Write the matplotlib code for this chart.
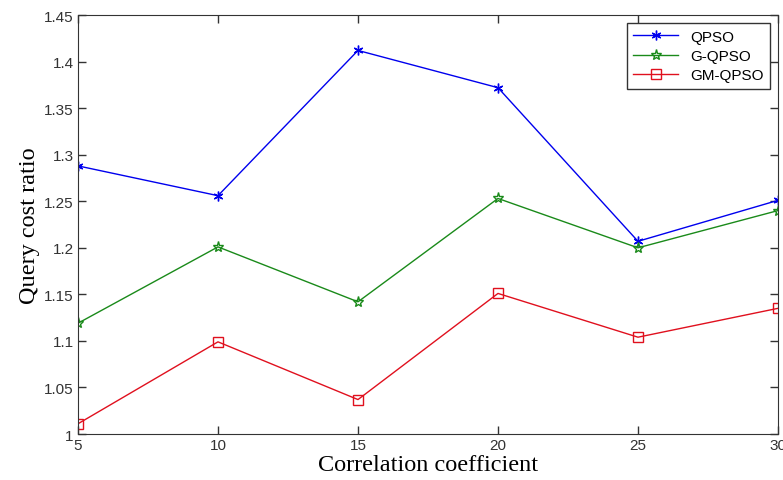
import matplotlib
matplotlib.use("Agg")
import matplotlib.pyplot as plt

# 数据
corr = [5, 10, 15, 20, 25, 30]
qpso = [1.288, 1.256, 1.412, 1.372, 1.207, 1.251]
g_qpso = [1.119, 1.201, 1.142, 1.253, 1.200, 1.240]
gm_qpso = [1.011, 1.099, 1.037, 1.151, 1.104, 1.135]
yticks = [1, 1.05, 1.1, 1.15, 1.2, 1.25, 1.3, 1.35, 1.4, 1.45]
ytick_labels = ["1", "1.05", "1.1", "1.15", "1.2", "1.25", "1.3", "1.35", "1.4", "1.45"]

fig = plt.figure(figsize=(7.83, 4.81), dpi=100)
ax = fig.add_axes([0.0996, 0.0956, 0.894, 0.871])

ax.plot(corr, qpso, color="#0000ee", lw=1, marker=(6, 2, 0), ms=7, mew=1, label="QPSO")
ax.plot(corr, g_qpso, color="#1a8a1a", lw=1, marker="*", ms=8, mfc="none", mew=1, label="G-QPSO")
ax.plot(corr, gm_qpso, color="#e0101e", lw=1, marker="s", ms=6.5, mfc="none", mew=1, label="GM-QPSO")

ax.set_xlim(5, 30)
ax.set_ylim(1, 1.45)
ax.set_xticks(corr)
ax.set_yticks(yticks)
ax.set_yticklabels(ytick_labels)
ax.tick_params(direction="in", top=True, right=True, length=6, width=1,
               labelsize=11, colors="#333333", pad=3)
for lbl in ax.get_xticklabels() + ax.get_yticklabels():
    lbl.set_fontfamily("Liberation Sans")
for sp in ax.spines.values():
    sp.set_color("#333333")

ax.set_xlabel("Correlation coefficient", fontfamily="Liberation Serif", fontsize=17.5, labelpad=1)
ax.set_ylabel("Query cost ratio", fontfamily="Liberation Serif", fontsize=17.5, labelpad=3)

leg = ax.legend(loc="upper right", prop={"family": "Liberation Sans", "size": 11},
                fancybox=False, edgecolor="#333333", framealpha=1,
                borderaxespad=0.5, handlelength=2.9, labelspacing=0.35,
                borderpad=0.45)
leg.get_frame().set_linewidth(1)

fig.savefig("out.png", dpi=100)
